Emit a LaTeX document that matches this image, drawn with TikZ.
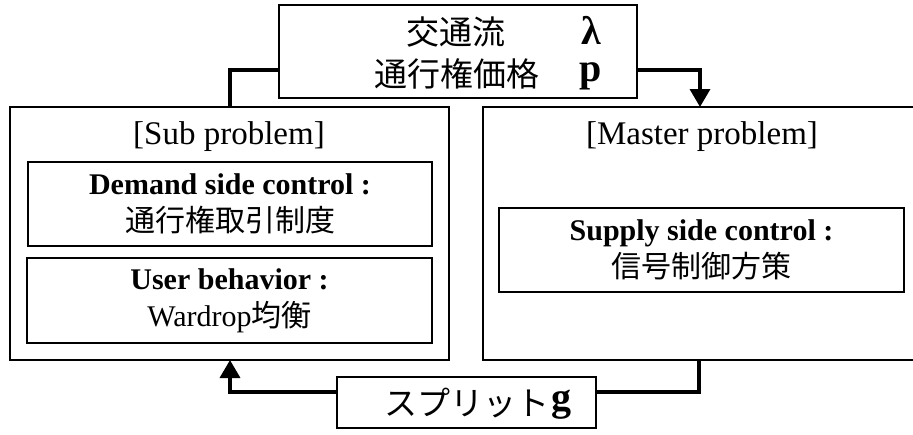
\documentclass[tikz,border=0pt]{standalone}
\usepackage{fontspec}
\setmainfont{Liberation Serif}
\newfontfamily\jp{Noto Sans CJK JP}
\usetikzlibrary{arrows.meta}
\begin{document}
\begin{tikzpicture}[x=1pt,y=-1pt,
  box/.style={draw,line width=2.2pt,rectangle,inner sep=0pt,outer sep=0pt},
  conn/.style={line width=3.5pt,line join=miter},
  arr/.style={-{Triangle[width=20pt,length=18pt]}},
  body/.style={font=\fontsize{30}{37}\selectfont,align=center,inner sep=0pt},
  big/.style={font=\fontsize{33}{40}\selectfont,inner sep=0pt},
  sym/.style={font=\fontsize{40}{44}\selectfont\bfseries,inner sep=0pt,anchor=base}]
\useasboundingbox (0,0) rectangle (913,434);
\clip (0,0) rectangle (913,434);
% boxes
\node[box,minimum width=358pt,minimum height=93pt] (top) at (458,51.5) {};
\node[box,minimum width=439pt,minimum height=253pt] (sub) at (229.5,233.5) {};
\node[box,minimum width=460pt,minimum height=253pt] (master) at (713,233.5) {};
\node[box,minimum width=404pt,minimum height=84pt,body] (demand) at (230,204)
  {\textbf{Demand side control :}\\{\jp 通行権取引制度}};
\node[box,minimum width=405pt,minimum height=85pt,body] (user) at (229.5,300.5)
  {\textbf{User behavior :}\\Wardrop{\jp 均衡}};
\node[box,minimum width=405pt,minimum height=84pt,body] (supply) at (701.5,250)
  {\textbf{Supply side control :}\\{\jp 信号制御方策}};
\node[box,minimum width=259pt,minimum height=51pt] (split) at (466.5,402.5) {};
% titles
\node[big] (subt) at (229,137) {[Sub problem]};
\node[big] (mastert) at (702,137) {[Master problem]};
% top box text
\node[big,anchor=base] (t1) at (456,44) {\jp 交通流};
\node[big,anchor=base] (t2) at (457,86) {\jp 通行権価格};
\node[sym] (lam) at (591,44) {λ};
\node[sym] (pp) at (590.5,81) {p};
% split text
\node[big] (splitt) at (466.5,403) {\jp スプリット};
\node[sym] (gg) at (561.5,410) {g};
% connectors
\coordinate (tl) at (230,70);
\coordinate (tr) at (700,70);
\coordinate (br) at (699,392);
\coordinate (bl) at (230,392);
\draw[conn] (tl -| top.west) -- (tl) -- (tl |- sub.north);
\draw[conn,arr] (tr -| top.east) -- (tr) -- (tr |- master.north);
\draw[conn] (br |- master.south) -- (br) -- (br -| split.east);
\draw[conn,arr] (bl -| split.west) -- (bl) -- (bl |- sub.south);
\end{tikzpicture}
\end{document}
